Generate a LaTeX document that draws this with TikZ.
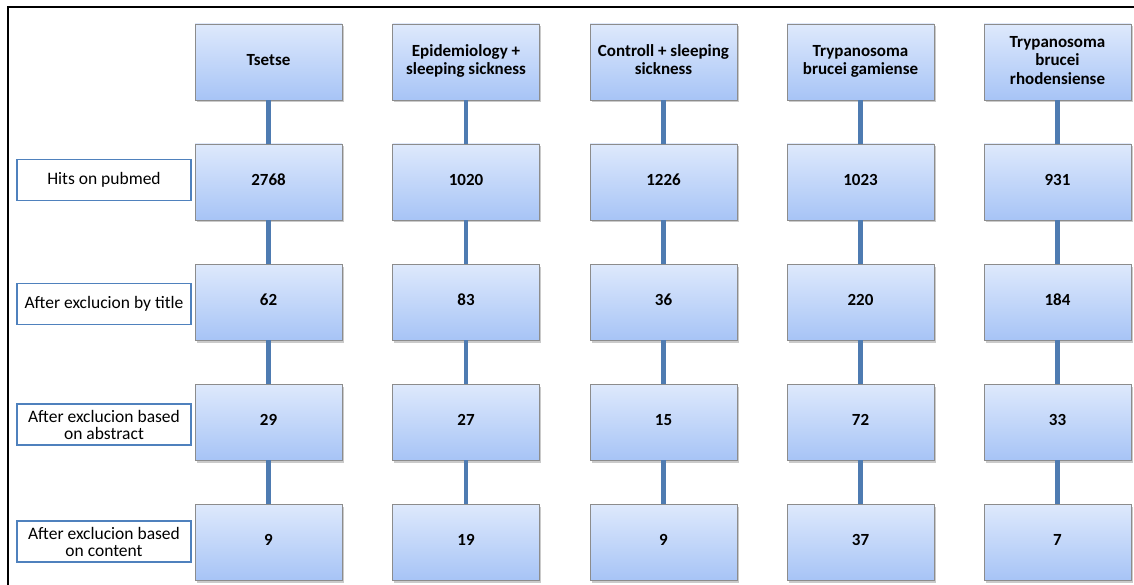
\documentclass[tikz,border=0pt]{standalone}
\usepackage{fontspec}
\setmainfont{Carlito}
\usetikzlibrary{shadows,calc}
\definecolor{boxtop}{HTML}{DEE9FC}
\definecolor{boxbot}{HTML}{A7C4F6}
\definecolor{boxedge}{HTML}{8C8C8C}
\definecolor{linkc}{HTML}{4E7BB1}
\definecolor{lbledge}{HTML}{4F81BD}
\tikzset{
  bluebox/.style={rectangle, minimum width=147pt, minimum height=76pt, inner sep=0pt,
    top color=boxtop, bottom color=boxbot, draw=boxedge, line width=0.9pt,
    drop shadow={shadow xshift=1.5pt, shadow yshift=-2.5pt, opacity=0.35, fill=black!60},
    font=\fontsize{17}{18.5}\selectfont\bfseries, align=center},
  lblbox/.style={rectangle, minimum width=174pt, minimum height=41pt, inner sep=0pt,
    fill=white, draw=lbledge, line width=1.1pt,
    font=\fontsize{17.5}{17}\selectfont, align=center},
  link/.style={draw=linkc, line width=4.5pt},
  frame/.style={draw=black, line width=2pt}
}
\begin{document}
\begin{tikzpicture}[x=1pt,y=-1pt]
\useasboundingbox (0,0) rectangle (1134,585);
\draw[frame] (8,585) -- (8,7.5) -- (1134,7.5);
% header row
\node[bluebox] (a1) at (268.5,62) {\raisebox{5pt}{Tsetse}};
\node[bluebox] (b1) at (466,62) {\raisebox{5pt}{\begin{tabular}{@{}c@{}}Epidemiology +\\sleeping sickness\end{tabular}}};
\node[bluebox] (c1) at (663.5,62) {\raisebox{5pt}{\begin{tabular}{@{}c@{}}Controll + sleeping\\sickness\end{tabular}}};
\node[bluebox] (d1) at (860.5,62) {\raisebox{5pt}{\begin{tabular}{@{}c@{}}Trypanosoma\\brucei gamiense\end{tabular}}};
\node[bluebox] (e1) at (1057.5,62) {\raisebox{4pt}{\begin{tabular}{@{}c@{}}Trypanosoma\\brucei\\rhodensiense\end{tabular}}};
% number rows
\foreach \n/\cx/\va/\vb/\vc/\vd in {a/268.5/2768/62/29/9, b/466/1020/83/27/19, c/663.5/1226/36/15/9, d/860.5/1023/220/72/37, e/1057.5/931/184/33/7}{
  \node[bluebox] (\n2) at (\cx,182) {\raisebox{4pt}{\va}};
  \node[bluebox] (\n3) at (\cx,302) {\raisebox{4pt}{\vb}};
  \node[bluebox] (\n4) at (\cx,422) {\raisebox{4pt}{\vc}};
  \node[bluebox] (\n5) at (\cx,542) {\raisebox{4pt}{\vd}};
}
% connectors
\foreach \n in {a,b,c,d,e}{
  \draw[link] (\n1.south) -- (\n2.north);
  \draw[link] (\n2.south) -- (\n3.north);
  \draw[link] (\n3.south) -- (\n4.north);
  \draw[link] (\n4.south) -- (\n5.north);
}
% row labels
\node[lblbox] (l2) at (104,180) {Hits on pubmed};
\node[lblbox] (l3) at (104,304) {After exclucion by title};
\node[lblbox] (l4) at (104,424.5) {After exclucion based\\on abstract};
\node[lblbox] (l5) at (104,541.5) {After exclucion based\\on content};
\end{tikzpicture}
\end{document}
